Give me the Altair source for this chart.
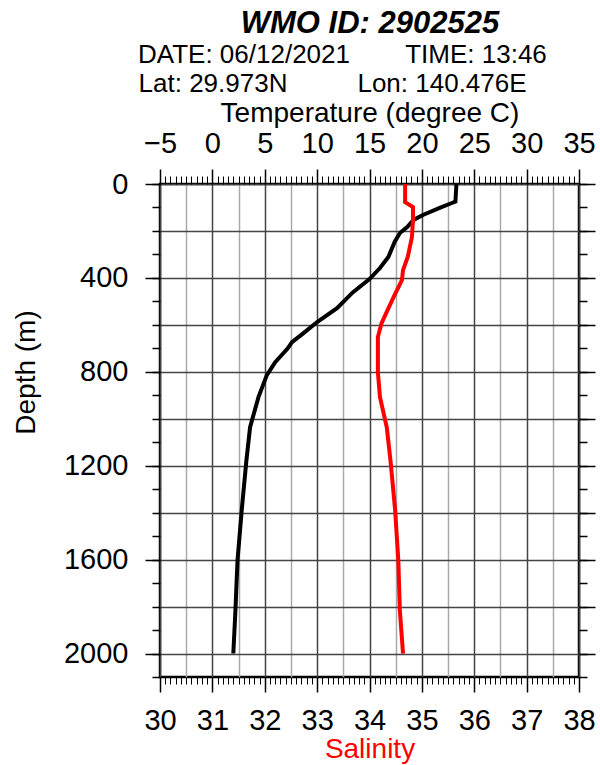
import altair as alt
import pandas as pd

# ---- profile data ----
temp_depth = [0, 75, 82, 102, 132, 153, 183, 209, 247, 311, 358, 405, 462, 529, 588, 635,
              674, 700, 759, 814, 908, 1036, 1177, 1390, 1603, 1817, 2000]
temp_values = [23.3, 23.2, 22.8, 21.7, 20.1, 19.2, 18.6, 17.9, 17.4, 16.8, 16.0, 15.0, 13.4,
               11.9, 10.0, 8.7, 7.6, 7.2, 6.0, 5.2, 4.4, 3.6, 3.25, 2.8, 2.4, 2.2, 2.0]

sal_depth = [0, 77, 98, 153, 226, 311, 367, 409, 482, 593, 652, 802, 908, 1036, 1177,
             1390, 1603, 1817, 2000]
sal_values = [34.68, 34.68, 34.83, 34.83, 34.81, 34.73, 34.64, 34.62, 34.46, 34.23, 34.16,
              34.16, 34.20, 34.33, 34.40, 34.49, 34.55, 34.58, 34.64]

# ---- axis tick values ----
sal_major = [30, 31, 32, 33, 34, 35, 36, 37, 38]
sal_half = [30, 30.5, 31, 31.5, 32, 32.5, 33, 33.5, 34, 34.5, 35, 35.5, 36, 36.5, 37, 37.5, 38]
sal_minor = [round(30 + i / 10, 1) for i in range(81)]
temp_major = [-5, 0, 5, 10, 15, 20, 25, 30, 35]
temp_minor = [-5 + i * 0.5 for i in range(81)]
depth_labels = [0, 400, 800, 1200, 1600, 2000]
depth_200 = [0, 200, 400, 600, 800, 1000, 1200, 1400, 1600, 1800, 2000]
depth_100 = [0, 100, 200, 300, 400, 500, 600, 700, 800, 900, 1000, 1100, 1200, 1300, 1400,
             1500, 1600, 1700, 1800, 1900, 2000, 2100]

FONT = "Liberation Sans"

tdf = pd.DataFrame({"depth": temp_depth, "temp": temp_values})
sdf = pd.DataFrame({"depth": sal_depth, "sal": sal_values})

yscale = alt.Scale(domain=[0, 2100], reverse=True, nice=False, zero=False)
tscale = alt.Scale(domain=[-5, 35], nice=False, zero=False)
sscale = alt.Scale(domain=[30, 38], nice=False, zero=False)

noax = dict(labels=False, domain=False, title=None, grid=False)

# Layer 1: temperature line, top major axis, horizontal grid
temp_line = alt.Chart(tdf).mark_line(color="black", strokeWidth=4).encode(
    x=alt.X("temp:Q", scale=tscale, axis=alt.Axis(
        orient="top", values=temp_major, tickSize=15, tickWidth=1.5, tickColor="black",
        labelFont=FONT, labelFontSize=29, labelColor="black", labelBaseline="alphabetic",
        labelPadding=17, labelFlush=False, labelOverlap=False, domain=False, grid=False,
        title="Temperature (degree C)", titleFont=FONT, titleFontSize=28,
        titleFontWeight="normal", titleColor="black", titleBaseline="alphabetic",
        titleX=209.5, titleY=-63)),
    y=alt.Y("depth:Q", scale=yscale, axis=alt.Axis(
        orient="left", values=depth_200, grid=True, gridColor="#444", gridWidth=1.5,
        ticks=False, labels=False, domain=False, title=None)),
    order="depth:Q",
)

# Layer 2: salinity line, bottom major axis, left labelled depth axis
sal_line = alt.Chart(sdf).mark_line(color="#ff0000", strokeWidth=4).encode(
    x=alt.X("sal:Q", scale=sscale, axis=alt.Axis(
        orient="bottom", values=sal_major, tickSize=15, tickWidth=1.5, tickColor="black",
        labelFont=FONT, labelFontSize=29, labelColor="black", labelBaseline="alphabetic",
        labelPadding=37, labelFlush=False, labelOverlap=False, domain=False, grid=False,
        title="Salinity", titleFont=FONT, titleFontSize=28, titleFontWeight="normal",
        titleColor="#ff0000", titleBaseline="alphabetic", titleX=209.5, titleY=80)),
    y=alt.Y("depth:Q", scale=yscale, axis=alt.Axis(
        orient="left", values=depth_labels, format="d", tickSize=15, tickWidth=1.5,
        tickColor="black", labelFont=FONT, labelFontSize=29, labelColor="black",
        labelPadding=17, labelBaseline="middle", labelFlush=False, labelOverlap=False,
        domain=False, grid=False,
        title="Depth (m)", titleFont=FONT, titleFontSize=28, titleFontWeight="normal",
        titleColor="black", titleAngle=270, titleBaseline="alphabetic", titleAlign="center",
        titleX=-126, titleY=188)),
    order="depth:Q",
)

# Layer 3: salinity minor ticks, right axis 200 m ticks
l3 = alt.Chart(sdf).mark_line(opacity=0).encode(
    x=alt.X("sal:Q", scale=sscale, axis=alt.Axis(
        orient="bottom", values=sal_minor, tickSize=7, tickWidth=1, tickColor="black", **noax)),
    y=alt.Y("depth:Q", scale=yscale, axis=alt.Axis(
        orient="right", values=depth_200, tickSize=16, tickWidth=1.5, tickColor="black", **noax)),
    order="depth:Q",
)

# Layer 4: temperature minor ticks, right axis 100 m ticks
l4 = alt.Chart(tdf).mark_line(opacity=0).encode(
    x=alt.X("temp:Q", scale=tscale, axis=alt.Axis(
        orient="top", values=temp_minor, tickSize=8, tickWidth=1, tickColor="black", **noax)),
    y=alt.Y("depth:Q", scale=yscale, axis=alt.Axis(
        orient="right", values=depth_100, tickSize=8, tickWidth=1.5, tickColor="black", **noax)),
    order="depth:Q",
)

# Layer 5: vertical grid every 0.5 salinity, left axis 100 m ticks
l5 = alt.Chart(sdf).mark_line(opacity=0).encode(
    x=alt.X("sal:Q", scale=sscale, axis=alt.Axis(
        orient="bottom", values=sal_half, ticks=False, labels=False, domain=False, title=None,
        grid=True, gridWidth=1.5,
        gridColor={"condition": {"test": "datum.value % 1 === 0", "value": "#444"},
                   "value": "#aaaaaa"})),
    y=alt.Y("depth:Q", scale=yscale, axis=alt.Axis(
        orient="left", values=depth_100, tickSize=8, tickWidth=1.5, tickColor="black", **noax)),
    order="depth:Q",
)

one = pd.DataFrame({"k": [0]})


def label(text, x, y, size=26, weight="normal", style="normal"):
    return alt.Chart(one).mark_text(
        text=text, font=FONT, fontSize=size, fontWeight=weight, fontStyle=style,
        color="black", align="center", baseline="alphabetic",
    ).encode(x=alt.value(x), y=alt.value(y))


headers = [
    label("WMO ID: 2902525", 210, -151, size=31, weight="bold", style="italic"),
    label("DATE: 06/12/2021", 84, -121, size=26),
    label("TIME: 13:46", 316, -121, size=26),
    label("Lat: 29.973N", 53, -92, size=26),
    label("Lon: 140.476E", 282, -92, size=26),
]

chart = alt.layer(l5, l4, l3, temp_line, sal_line, *headers).resolve_scale(
    x="independent"
).resolve_axis(
    x="independent", y="independent"
).properties(
    width=419, height=493,
    autosize=alt.AutoSizeParams(type="none"),
    padding={"left": 160, "top": 184, "right": 21, "bottom": 88},
    background="white",
).configure_view(
    stroke="black", strokeWidth=2.5
)

chart.save("out.html", embed_options={"renderer": "svg", "actions": False})
